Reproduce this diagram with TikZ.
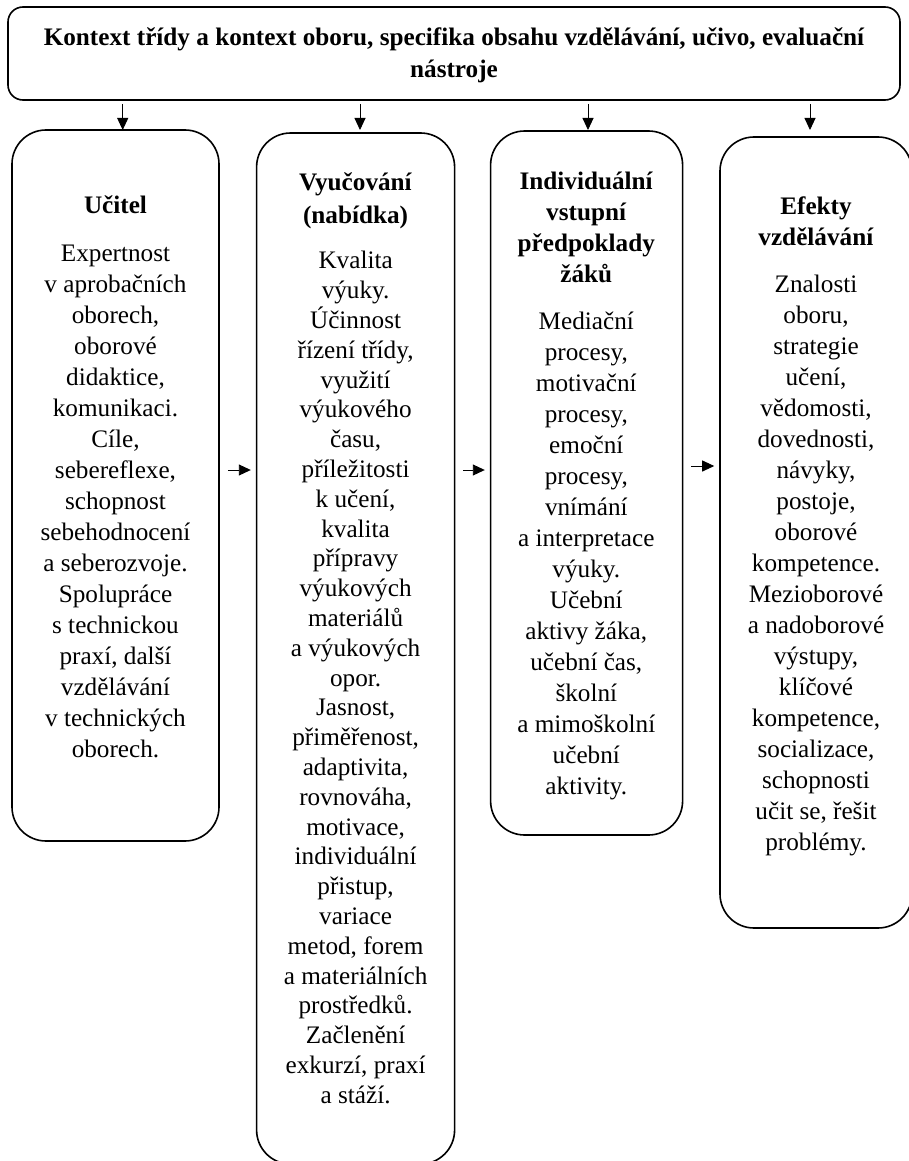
\documentclass[tikz,border=0pt]{standalone}
\usepackage{fontspec}
\setmainfont{Liberation Serif}
\usetikzlibrary{arrows.meta}
\newcommand{\fl}{\rule{0pt}{25pt}}
\begin{document}
\begin{tikzpicture}[x=1pt,y=-1pt,
  box/.style={draw, line width=1.6pt, rounded corners=34pt, inner sep=0pt},
  topbox/.style={draw, line width=1.6pt, rounded corners=15pt, inner sep=0pt},
  txt/.style={align=center, inner sep=0pt, anchor=north, font=\fontsize{25.2}{31}\selectfont},
  txttight/.style={txt, font=\fontsize{25.2}{29.8}\selectfont},
  txttop/.style={txt, font=\fontsize{25.2}{32}\selectfont\bfseries},
  arr/.style={line width=0.9pt, -{Triangle[length=12pt,width=11pt]}}]
\useasboundingbox (0,0) rectangle (908,1161);
\fill[white] (0,0) rectangle (908,1161);

% boxes
\node[topbox, minimum width=892pt, minimum height=93pt] (top) at (454,53.5) {};
\node[box, minimum width=207pt, minimum height=711pt] (b1) at (115.5,485.5) {};
\node[box, minimum width=198pt, minimum height=1031pt] (b2) at (355.6,648.5) {};
\node[box, minimum width=192pt, minimum height=704pt] (b3) at (586.6,483) {};
\node[box, minimum width=192pt, minimum height=791pt] (b4) at (816,532.5) {};

% texts
\node[txttop] (ttop) at (454,20) {\fl Kontext třídy a kontext oboru, specifika obsahu vzdělávání, učivo, evaluační\\nástroje};

\node[txt] (t1) at (115.5,188) {\fl\textbf{Učitel}\\[17pt]
Expertnost\\v aprobačních\\oborech,\\oborové\\didaktice,\\komunikaci.\\Cíle,\\sebereflexe,\\schopnost\\sebehodnocení\\a seberozvoje.\\Spolupráce\\s technickou\\praxí, další\\vzdělávání\\v technických\\oborech.};

\node[txttight] (t2) at (355.6,165) {\fl\textbf{Vyučování}\\[3pt]\textbf{(nabídka)}\\[16pt]
Kvalita\\výuky.\\Účinnost\\řízení třídy,\\využití\\výukového\\času,\\příležitosti\\k učení,\\kvalita\\přípravy\\výukových\\materiálů\\a výukových\\opor.\\Jasnost,\\přiměřenost,\\adaptivita,\\rovnováha,\\motivace,\\individuální\\přistup,\\variace\\metod, forem\\a materiálních\\prostředků.\\Začlenění\\exkurzí, praxí\\a stáží.};

\node[txt] (t3) at (586.3,164) {\fl\textbf{Individuální}\\\textbf{vstupní}\\\textbf{předpoklady}\\\textbf{žáků}\\[16pt]
Mediační\\procesy,\\motivační\\procesy,\\emoční\\procesy,\\vnímání\\a interpretace\\výuky.\\Učební\\aktivy žáka,\\učební čas,\\školní\\a mimoškolní\\učební\\aktivity.};

\node[txt] (t4) at (816,189) {\fl\textbf{Efekty}\\\textbf{vzdělávání}\\[16pt]
Znalosti\\oboru,\\strategie\\učení,\\vědomosti,\\dovednosti,\\návyky,\\postoje,\\oborové\\kompetence.\\Mezioborové\\a nadoborové\\výstupy,\\klíčové\\kompetence,\\socializace,\\schopnosti\\učit se, řešit\\problémy.};

% vertical arrows
\coordinate (e1) at (122.7,130);
\coordinate (e2) at (360,130);
\coordinate (e3) at (588,130);
\coordinate (e4) at (810,130);
\foreach \i in {1,2,3,4}{
  \draw[arr, shorten <=3pt] (top.south -| e\i) -- (e\i);
}

% horizontal arrows
\coordinate (h) at (0,470);
\coordinate (hh) at (0,466);
\draw[arr, shorten <=8pt, shorten >=5pt] (b1.east |- h) -- (b2.west |- h);
\draw[arr, shorten <=8pt, shorten >=5pt] (b2.east |- h) -- (b3.west |- h);
\draw[arr, shorten <=8pt, shorten >=5pt] (b3.east |- hh) -- (b4.west |- hh);
\end{tikzpicture}
\end{document}
